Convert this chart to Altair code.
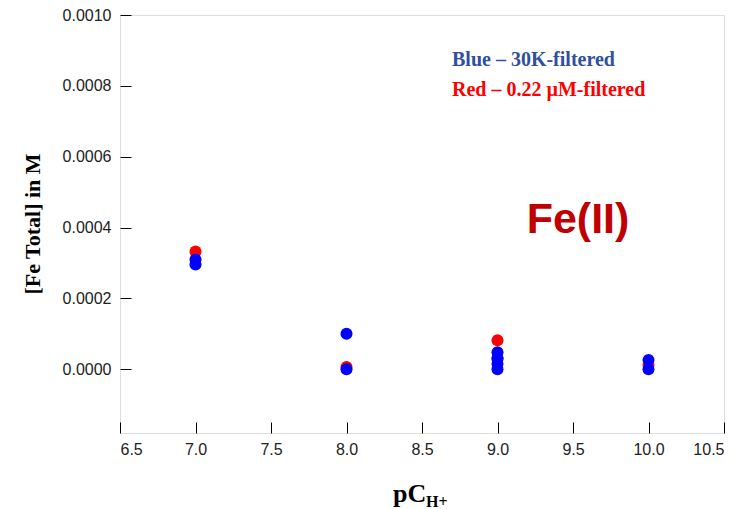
import altair as alt
import pandas as pd

# pC(H+) and total Fe concentration (M) per filtration method
blue_x = [7.0, 7.0, 8.0, 8.0, 9.0, 9.0, 9.0, 9.0, 10.0, 10.0]
blue_y = [0.000310, 0.000296, 0.000100, 0.0, 0.000048, 0.000030, 0.000015, 0.0, 0.000026, 0.0]
red_x = [7.0, 8.0, 9.0, 9.0, 10.0]
red_y = [0.000332, 0.000006, 0.000082, 0.000030, 0.000012]

x_ticks = [6.5, 7.0, 7.5, 8.0, 8.5, 9.0, 9.5, 10.0, 10.5]
y_ticks = [0.0, 0.0002, 0.0004, 0.0006, 0.0008, 0.0010]

W, H = 604, 418
TICK = 11
x_scale = alt.Scale(domain=[6.5, 10.5], nice=False, zero=False)
y_scale = alt.Scale(domain=[-0.00018, 0.0010], nice=False, zero=False)

red_df = pd.DataFrame({"pch": red_x, "fe": red_y})
blue_df = pd.DataFrame({"pch": blue_x, "fe": blue_y})

# axes are pulled inside the frame so their ticks point inward
x_axis = alt.Axis(values=x_ticks, format=".1f", grid=False, domain=False,
                  ticks=True, tickSize=TICK, tickColor="black", tickWidth=1, offset=-TICK,
                  labelFont="Liberation Sans", labelFontSize=16, labelColor="#222222",
                  labelPadding=8, title=None)
y_axis = alt.Axis(values=y_ticks, format=".4f", grid=False, domain=False,
                  ticks=True, tickSize=TICK, tickColor="black", tickWidth=1, offset=-TICK,
                  labelFont="Liberation Sans", labelFontSize=16, labelColor="#222222",
                  labelPadding=9, title=None)

red_pts = alt.Chart(red_df).mark_point(filled=True, shape="circle", size=145, opacity=1,
                                       color="#FF0000").encode(
    x=alt.X("pch:Q", scale=x_scale, axis=x_axis),
    y=alt.Y("fe:Q", scale=y_scale, axis=y_axis),
)
blue_pts = alt.Chart(blue_df).mark_point(filled=True, shape="circle", size=145, opacity=1,
                                         color="#0000FF").encode(
    x=alt.X("pch:Q", scale=x_scale),
    y=alt.Y("fe:Q", scale=y_scale),
)

def label(txt, x, y, size, color, font, weight="bold", align="left", baseline="alphabetic", angle=0):
    props = dict(text=txt, fontSize=size, color=color, font=font, fontWeight=weight,
                 align=align, baseline=baseline)
    if angle:
        props["angle"] = angle
    return alt.Chart(pd.DataFrame({"a": [0]})).mark_text(**props).encode(
        x=alt.value(x), y=alt.value(y))

legend_blue = label("Blue – 30K-filtered", 332, 45, 20, "#2F4F9F", "Liberation Serif", baseline="middle")
legend_red = label("Red – 0.22 µM-filtered", 332, 75, 20, "#FF0000", "Liberation Serif", baseline="middle")
fe_label = label("Fe(II)", 458, 218, 43, "#C00000", "Liberation Sans", align="center")
y_title = label("[Fe Total] in M", -87, 209, 22, "black", "Liberation Serif",
                align="center", baseline="middle", angle=270)
x_title_main = label("pC", 273, 487, 26, "black", "Liberation Serif")
x_title_sub = label("H+", 306, 492, 16, "black", "Liberation Serif")

chart = alt.layer(
    red_pts, blue_pts, legend_blue, legend_red, fe_label,
    y_title, x_title_main, x_title_sub,
).properties(
    width=W, height=H,
    autosize=alt.AutoSizeParams(type="none"),
    padding={"left": 120, "top": 15, "right": 28, "bottom": 76},
).configure_view(
    stroke="black", strokeWidth=1
).configure(background="white")

chart.save("out.html", embed_options={"renderer": "svg", "actions": False})
